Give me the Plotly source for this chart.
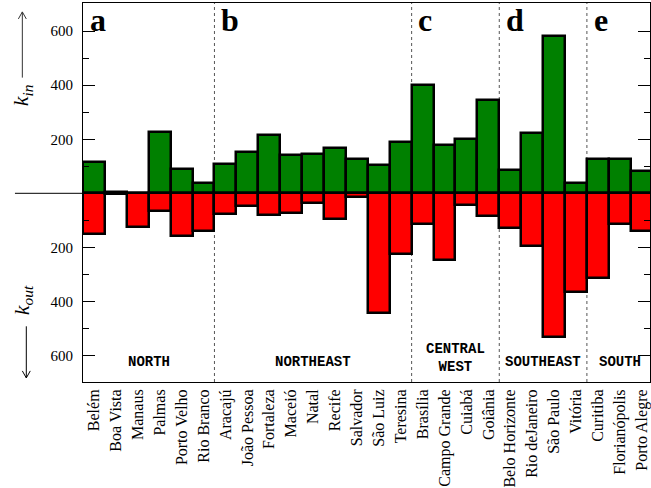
import plotly.graph_objects as go

cities = ["Belém", "Boa Vista", "Manaus", "Palmas", "Porto Velho", "Rio Branco",
          "Aracajú", "João Pessoa", "Fortaleza", "Maceió", "Natal", "Recife",
          "Salvador", "São Luiz", "Teresina",
          "Brasília", "Campo Grande", "Cuiabá", "Goiânia",
          "Belo Horizonte", "Rio deJaneiro", "São Paulo", "Vitória",
          "Curitiba", "Florianópolis", "Porto Alegre"]
k_in = [114, 5, 2, 228, 89, 37,
        108, 153, 215, 143, 147, 169, 126, 105, 191,
        399, 178, 200, 347,
        87, 222, 583, 40,
        127, 128, 81]
k_out = [150, 1, 125, 66, 158, 140,
         76, 48, 82, 71, 37, 95, 12, 442, 223,
         115, 248, 43, 85,
         127, 195, 531, 364,
         315, 113, 138]
region_letters = ["a", "b", "c", "d", "e"]
region_names = ["NORTH", "NORTHEAST", "CENTRAL<br>WEST", "SOUTHEAST", "SOUTH"]
region_sizes = [6, 9, 4, 4, 3]
y_tickvals = [-600, -400, -200, 200, 400, 600]
y_ticktext = ["600", "400", "200", "200", "400", "600"]

xc = [i + 0.5 for i in range(len(cities))]

fig = go.Figure()
fig.add_trace(go.Bar(x=xc, y=k_in, width=1, marker=dict(color="#008000", line=dict(color="black", width=2.5)),
                     showlegend=False))
fig.add_trace(go.Bar(x=xc, y=[-v for v in k_out], width=1,
                     marker=dict(color="#ff0000", line=dict(color="black", width=2.5)),
                     showlegend=False))

shapes = []
annotations = []
# zero line
shapes.append(dict(type="line", xref="paper", yref="y", x0=-0.12, x1=1.0, y0=0, y1=0,
                   line=dict(color="black", width=1), layer="below"))
start = 0
for i, (letter, name, size) in enumerate(zip(region_letters, region_names, region_sizes)):
    if start > 0:
        shapes.append(dict(type="line", xref="x", yref="paper", x0=start, x1=start, y0=0, y1=1,
                           line=dict(color="#555555", width=1, dash="dot"), layer="below"))
    annotations.append(dict(x=start + 0.22, y=640, xref="x", yref="y", text="<b>%s</b>" % letter,
                            showarrow=False, xanchor="left", yanchor="middle",
                            font=dict(family="Liberation Serif", size=32, color="black")))
    center = start + size / 2
    yy = -609 if "<br>" in name else -625
    annotations.append(dict(x=center, y=yy, xref="x", yref="y", text="<b>%s</b>" % name,
                            showarrow=False, xanchor="center", yanchor="middle",
                            font=dict(family="Liberation Mono", size=14, color="black")))
    start += size

# axis labels
annotations.append(dict(x=-0.106, y=362, xref="paper", yref="y", text="<i>k<sub>in</sub></i>",
                        showarrow=False, textangle=-90, xanchor="center", yanchor="middle",
                        font=dict(family="Liberation Serif", size=22, color="black")))
annotations.append(dict(x=-0.106, y=-396, xref="paper", yref="y", text="<i>k<sub>out</sub></i>",
                        showarrow=False, textangle=-90, xanchor="center", yanchor="middle",
                        font=dict(family="Liberation Serif", size=22, color="black")))

# arrows (drawn as shapes)
ax_up, ax_dn, dx, dy = -0.107, -0.1, 0.007, 26
shapes.append(dict(type="line", xref="paper", yref="y", x0=ax_up, x1=ax_up, y0=428, y1=671,
                   line=dict(color="#333333", width=1)))
shapes.append(dict(type="path", xref="paper", yref="y",
                   path="M %f,%f L %f,%f L %f,%f" % (ax_up - dx, 671 - dy, ax_up, 671, ax_up + dx, 671 - dy),
                   line=dict(color="#333333", width=1)))
shapes.append(dict(type="line", xref="paper", yref="y", x0=ax_dn, x1=ax_dn, y0=-492, y1=-683,
                   line=dict(color="black", width=1)))
shapes.append(dict(type="path", xref="paper", yref="y",
                   path="M %f,%f L %f,%f L %f,%f" % (ax_dn - dx, -683 + dy, ax_dn, -683, ax_dn + dx, -683 + dy),
                   line=dict(color="black", width=1)))

fig.update_layout(
    width=651, height=488,
    margin=dict(l=83, r=0, t=3, b=104),
    plot_bgcolor="white", paper_bgcolor="white",
    barmode="overlay", bargap=0,
    shapes=shapes, annotations=annotations,
    font=dict(family="Liberation Serif", size=15, color="black"),
)
fig.update_xaxes(range=[0, 25.88], tickvals=xc, ticktext=cities, tickangle=-90,
                 showline=True, linecolor="black", linewidth=1, mirror=True,
                 showgrid=False, zeroline=False, ticks="",
                 tickfont=dict(family="Liberation Serif", size=16, color="black"))
fig.update_yaxes(range=[-698, 704], tickvals=y_tickvals, ticktext=y_ticktext,
                 showline=True, linecolor="black", linewidth=1, mirror="ticks",
                 showgrid=False, zeroline=False, ticks="inside", ticklen=12, tickcolor="black",
                 ticklabelstandoff=6,
                 minor=dict(tickvals=[-500, -300, -100, 100, 300, 500], ticks="inside", ticklen=6,
                            tickcolor="black", showgrid=False),
                 tickfont=dict(family="Liberation Serif", size=15, color="black"))

fig.write_html("out.html")
